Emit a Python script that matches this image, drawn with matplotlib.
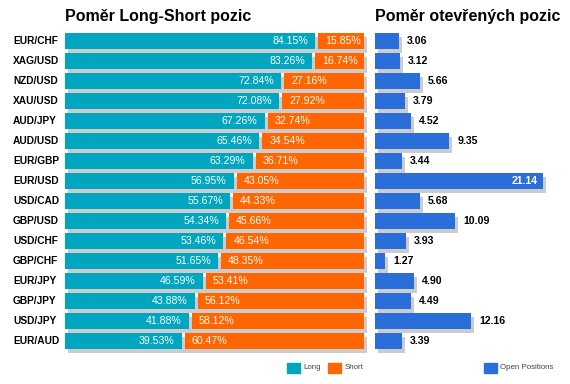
import matplotlib.pyplot as plt
from matplotlib.patches import Rectangle

plt.rcParams['font.family'] = ['Liberation Sans', 'DejaVu Sans']

# data
pairs = ["EUR/CHF", "XAG/USD", "NZD/USD", "XAU/USD", "AUD/JPY", "AUD/USD",
         "EUR/GBP", "EUR/USD", "USD/CAD", "GBP/USD", "USD/CHF", "GBP/CHF",
         "EUR/JPY", "GBP/JPY", "USD/JPY", "EUR/AUD"]
long_pct = [84.15, 83.26, 72.84, 72.08, 67.26, 65.46, 63.29, 56.95,
            55.67, 54.34, 53.46, 51.65, 46.59, 43.88, 41.88, 39.53]
short_pct = [15.85, 16.74, 27.16, 27.92, 32.74, 34.54, 36.71, 43.05,
             44.33, 45.66, 46.54, 48.35, 53.41, 56.12, 58.12, 60.47]
open_pos = [3.06, 3.12, 5.66, 3.79, 4.52, 9.35, 3.44, 21.14,
            5.68, 10.09, 3.93, 1.27, 4.90, 4.49, 12.16, 3.39]

TEAL = "#00a5c0"
ORANGE = "#ff6600"
BLUE = "#2a6fd9"
SHADOW = "#cccccc"

W, H = 570, 384
fig = plt.figure(figsize=(W / 100, H / 100), dpi=100)


def px_axes(x0, x1, y0, y1):
    return fig.add_axes([x0 / W, 1 - y1 / H, (x1 - x0) / W, (y1 - y0) / H])


rows = list(range(len(pairs)))
bar_h = 0.78

# ---- left panel: long / short ratio
ax1 = px_axes(65, 364, 30.8, 350.8)
ax1.set_xlim(0, 100)
ax1.set_ylim(len(pairs) - 0.5, -0.5)
ax1.axis('off')
pxu = 299 / 100  # pixels per unit

ax1.barh([r + 0.2 for r in rows], [100] * len(rows), left=3 / pxu,
         height=bar_h, color=SHADOW, clip_on=False, zorder=1)
ax1.barh(rows, [l - 0.5 for l in long_pct], height=bar_h, color=TEAL, zorder=2)
ax1.barh(rows, [s - 0.5 for s in short_pct], left=[l + 0.5 for l in long_pct],
         height=bar_h, color=ORANGE, zorder=2)

for r, name, l, s in zip(rows, pairs, long_pct, short_pct):
    ax1.text(-52 / pxu, r, name, ha='left', va='center', fontsize=7.3,
             fontweight='bold', color='black', clip_on=False)
    ax1.text(l - 0.5 - 7 / pxu, r, f"{l:.2f}%", ha='right', va='center',
             fontsize=7.6, color='white', zorder=3)
    ax1.text(l + 0.5 + 7 / pxu, r, f"{s:.2f}%", ha='left', va='center',
             fontsize=7.6, color='white', zorder=3)

# ---- right panel: open positions
ax2 = px_axes(375, 565, 30.8, 350.8)
pxu2 = 7.93
ax2.set_xlim(0, 190 / pxu2)
ax2.set_ylim(len(pairs) - 0.5, -0.5)
ax2.axis('off')

ax2.barh([r + 0.2 for r in rows], open_pos, left=3 / pxu2, height=bar_h,
         color=SHADOW, clip_on=False, zorder=1)
ax2.barh(rows, open_pos, height=bar_h, color=BLUE, zorder=2)
for r, v in zip(rows, open_pos):
    if v * pxu2 + 40 > 190:
        ax2.text(v - 5 / pxu2, r, f"{v:.2f}", ha='right', va='center',
                 fontsize=7.6, fontweight='bold', color='white', zorder=3)
    else:
        ax2.text(v + 8 / pxu2, r, f"{v:.2f}", ha='left', va='center',
                 fontsize=7.6, fontweight='bold', color='black', zorder=3)

# ---- titles
fig.text(65 / W, 1 - 21.5 / H, "Poměr Long-Short pozic", ha='left',
         va='baseline', fontsize=11.5, fontweight='bold')
fig.text(375 / W, 1 - 21.5 / H, "Poměr otevřených pozic", ha='left',
         va='baseline', fontsize=11.5, fontweight='bold')

# ---- legends
legend_items = [(287, TEAL, "Long"), (328, ORANGE, "Short"),
                (484, BLUE, "Open Positions")]
for x, c, label in legend_items:
    fig.patches.append(Rectangle((x / W, 1 - 372.7 / H), 12.5 / W, 10 / H,
                                 transform=fig.transFigure, color=c))
    fig.text((x + 16.5) / W, 1 - 367.7 / H, label, ha='left', va='center',
             fontsize=5.7, color='#444444')

fig.savefig("out.png", dpi=100)
